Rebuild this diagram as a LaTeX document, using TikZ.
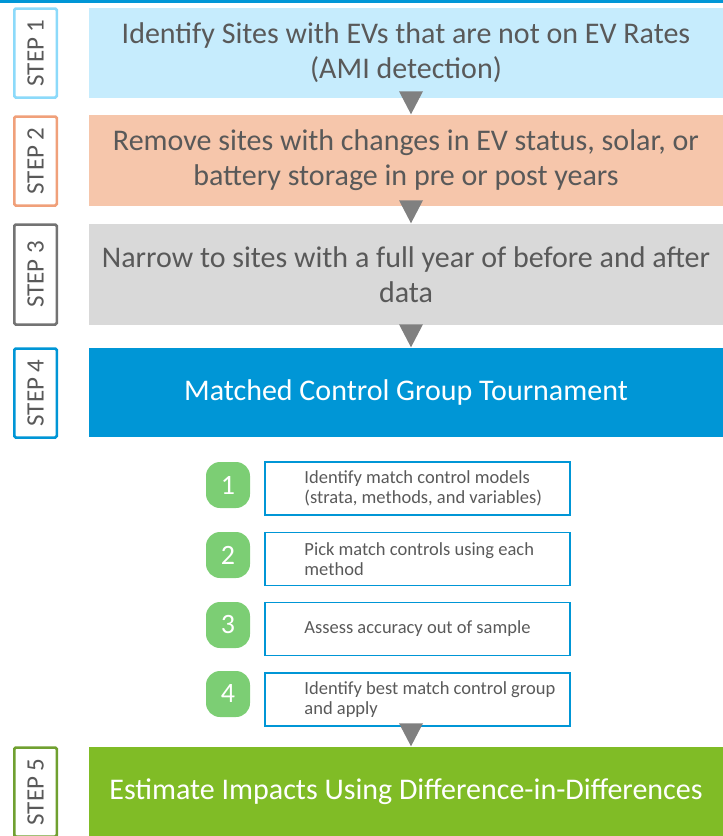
\documentclass[tikz,border=0pt]{standalone}
\usepackage{fontspec}
\setmainfont{Carlito}
\usepackage{tikz}
\usetikzlibrary{shapes.geometric,positioning,calc}
\definecolor{bleuLigne}{RGB}{0,150,214}
\definecolor{bleuClair}{RGB}{198,236,253}
\definecolor{bleuBord}{RGB}{140,218,250}
\definecolor{peche}{RGB}{246,198,171}
\definecolor{pecheBord}{RGB}{240,160,122}
\definecolor{grisClair}{RGB}{217,217,217}
\definecolor{grisBord}{RGB}{115,115,115}
\definecolor{vertFonce}{RGB}{128,188,38}
\definecolor{vertBord}{RGB}{112,160,48}
\definecolor{vertPastille}{RGB}{124,206,116}
\definecolor{texteGris}{RGB}{89,89,89}
\definecolor{flecheGris}{RGB}{128,128,128}

\begin{document}
\begin{tikzpicture}[x=1pt,y=-1pt,
  etape/.style={rectangle,minimum width=634pt,align=center,inner sep=0pt,
                text=texteGris,font=\fontsize{30}{35}\selectfont},
  numero/.style={rectangle,rounded corners=1.5pt,draw,line width=2.5pt,fill=white,
                 rotate=90,minimum width=89pt,minimum height=42.5pt,inner sep=0pt,
                 text=texteGris,font=\fontsize{25}{25}\selectfont},
  fleche/.style={isosceles triangle,isosceles triangle stretches,shape border rotate=-90,
                 minimum width=24pt,minimum height=23pt,inner sep=0pt,fill=flecheGris},
  sousetape/.style={rectangle,draw=bleuLigne,line width=1.5pt,minimum width=305pt,
                    minimum height=53pt,inner sep=0pt},
  soustexte/.style={align=left,inner sep=0pt,text=texteGris,
                    font=\fontsize{18.5}{20}\selectfont},
  pastille/.style={rectangle,rounded corners=14pt,fill=vertPastille,minimum width=44pt,
                   minimum height=46pt,inner sep=0pt,text=white,
                   font=\fontsize{28}{28}\selectfont}]

  \useasboundingbox (0,0) rectangle (723,836);
  \fill[bleuLigne] (0,0) rectangle (723,2.5);

  % main steps
  \node[etape,fill=bleuClair,minimum height=90pt] (E1) at (406,53)
    {Identify Sites with EVs that are not on EV Rates\\(AMI detection)};
  \node[etape,fill=peche,minimum height=91pt] (E2) at (406,160.5)
    {Remove sites with changes in EV status, solar, or\\battery storage in pre or post years};
  \node[etape,fill=grisClair,minimum height=101pt] (E3) at (406,274.5)
    {Narrow to sites with a full year of before and after\\data};
  \node[etape,fill=bleuLigne,minimum height=89pt,text=white] (E4) at (406,392.5)
    {Matched Control Group Tournament};
  \node[etape,fill=vertFonce,minimum height=89pt,text=white] (E5) at (406,791.5)
    {Estimate Impacts Using Difference-in-Differences};

  % step labels
  \node[numero,draw=bleuBord] (N1) at (35.5,53) {STEP 1};
  \node[numero,draw=pecheBord] (N2) at (35.5,161) {STEP 2};
  \node[numero,draw=grisBord,minimum width=100pt] (N3) at (35.5,274.5) {STEP 3};
  \node[numero,draw=bleuLigne] (N4) at (35.5,393) {STEP 4};
  \node[numero,draw=vertBord] (N5) at (35.5,792) {STEP 5};

  % tournament
  \node[sousetape] (S1) at (417.5,488.5) {};
  \node[sousetape] (S2) at (417.5,559) {};
  \node[sousetape] (S3) at (417.5,629) {};
  \node[sousetape] (S4) at (417.5,699.5) {};
  \node[soustexte,anchor=west] (T1) at ([xshift=40pt]S1.west)
    {Identify match control models\\(strata, methods, and variables)};
  \node[soustexte,anchor=west] (T2) at ([xshift=40pt]S2.west)
    {Pick match controls using each\\method};
  \node[soustexte,anchor=west] (T3) at ([xshift=40pt]S3.west)
    {Assess accuracy out of sample};
  \node[soustexte,anchor=west] (T4) at ([xshift=40pt]S4.west)
    {Identify best match control group\\and apply};
  \node[pastille] (P1) at (228,485) {1};
  \node[pastille] (P2) at (228,555) {2};
  \node[pastille] (P3) at (228,625) {3};
  \node[pastille] (P4) at (228,694) {4};

  % arrows
  \node[fleche,anchor=apex] (A1) at (E2.north -| 411,0) {};
  \node[fleche,anchor=apex] (A2) at (E3.north -| 411,0) {};
  \node[fleche,anchor=apex] (A3) at (E4.north -| 411,0) {};
  \node[fleche,anchor=apex] (A4) at (E5.north -| 411,0) {};
\end{tikzpicture}
\end{document}
